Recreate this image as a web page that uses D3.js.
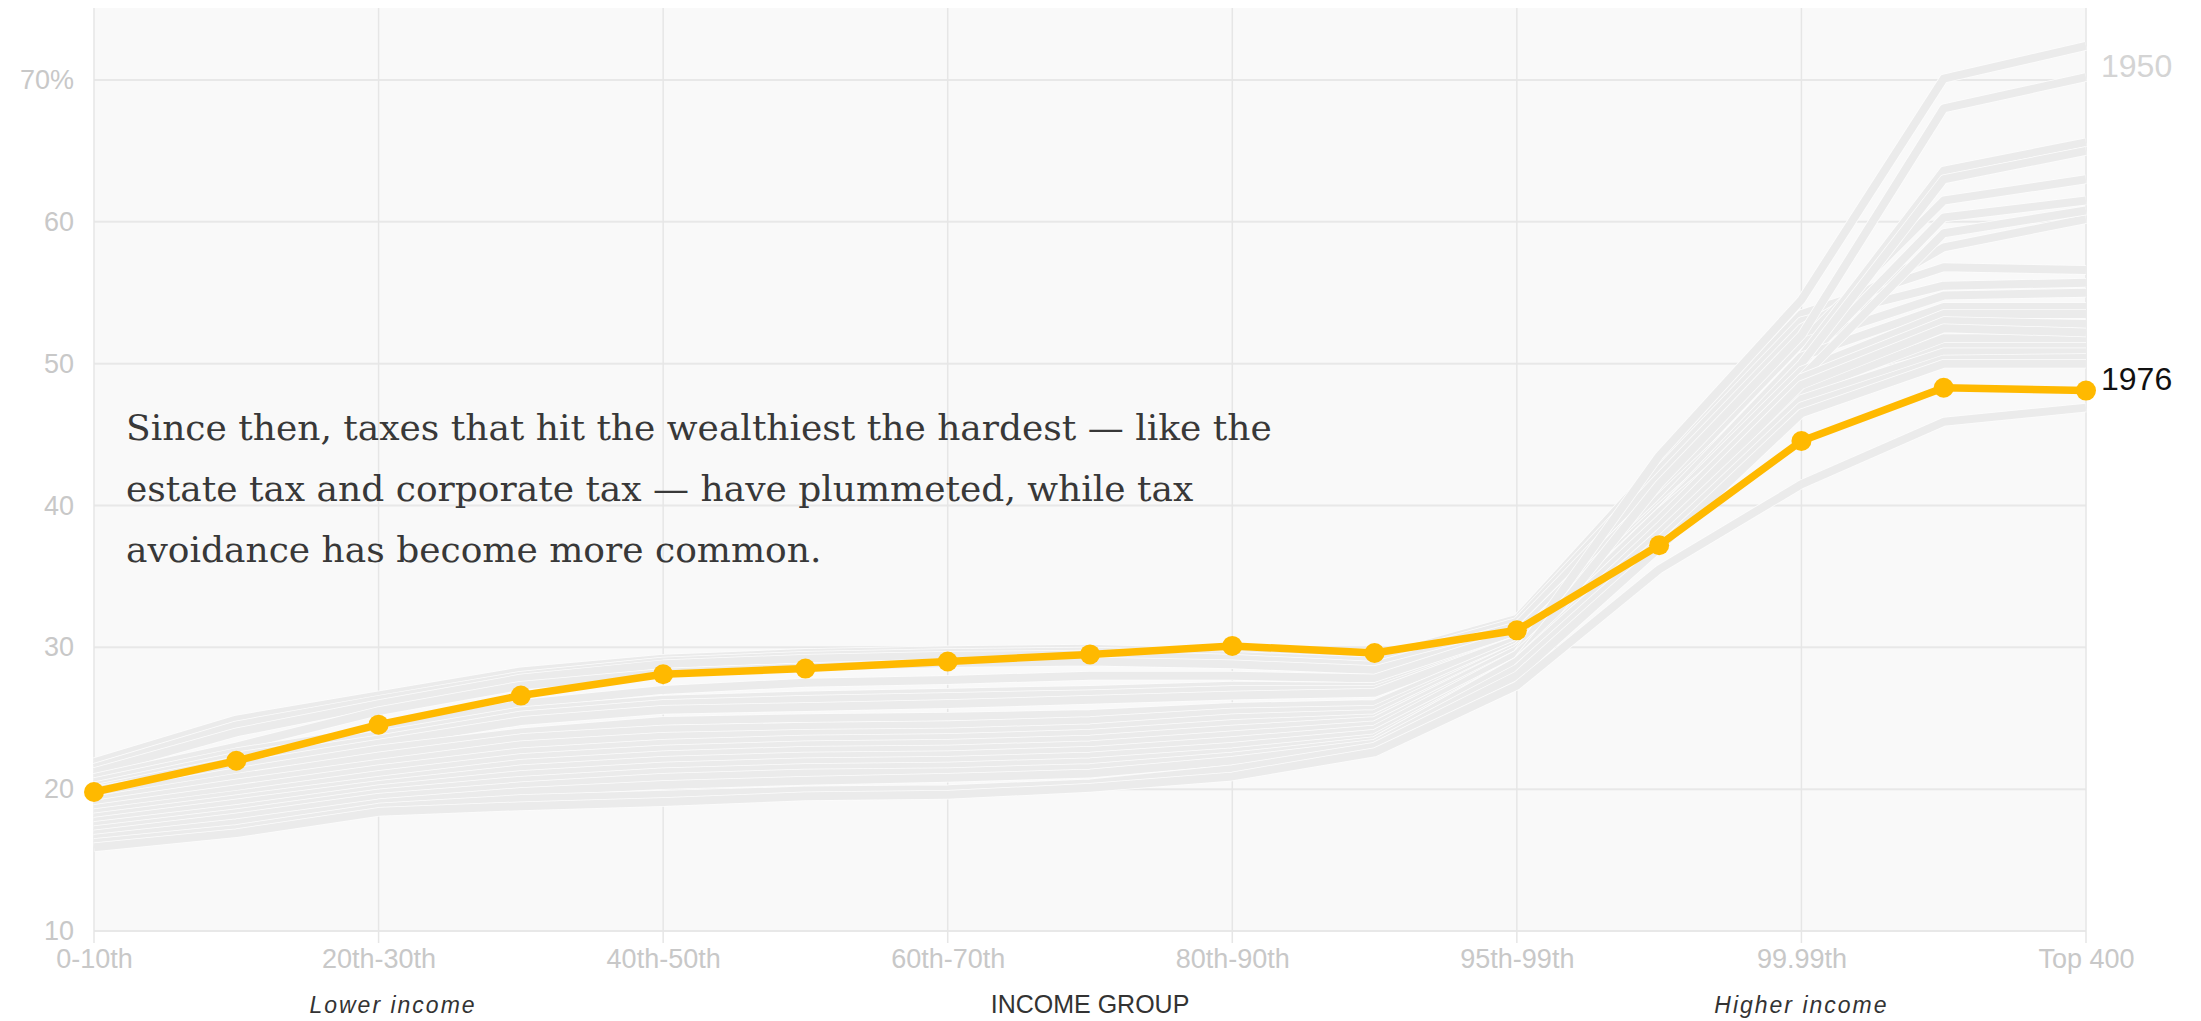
<!DOCTYPE html>
<html><head><meta charset="utf-8">
<script src="https://cdn.jsdelivr.net/npm/d3@7"></script>
<style>
html,body{margin:0;padding:0;background:#fff;}
svg{display:block;}
</style></head>
<body>
<svg id="chart" width="2201" height="1021"></svg>
<script>
// ---------- DATA ----------
const categories = ["0-10th","10th-20th","20th-30th","30th-40th","40th-50th","50th-60th","60th-70th","70th-80th","80th-90th","90th-95th","95th-99th","99th-99.9th","99.99th","Top 0.001%","Top 400"];
const tickLabels = ["0-10th","20th-30th","40th-50th","60th-70th","80th-90th","95th-99th","99.99th","Top 400"];
const yTicks = [10, 20, 30, 40, 50, 60, 70];
const highlightYear = "1976";
const highlightRates = [19.8, 22.0, 24.55, 26.6, 28.1, 28.5, 29.0, 29.5, 30.1, 29.6, 31.2, 37.2, 44.55, 48.3, 48.1];
const earliestYear = "1950";
const grayRates = [
  [21.9, 24.9, 26.6, 28.3, 29.2, 29.6, 29.8, 29.9, 29.6, 29.2, 32.0, 43.0, 53.5, 56.8, 56.6],
  [21.5, 24.5, 26.3, 28.0, 29.0, 29.4, 29.6, 29.7, 29.4, 29.0, 31.8, 42.5, 53.0, 55.5, 55.7],
  [21.2, 24.0, 26.0, 27.8, 28.8, 29.2, 29.4, 29.5, 29.2, 28.7, 31.5, 42.0, 52.5, 58.2, 60.2],
  [20.8, 23.0, 25.5, 27.3, 28.2, 28.6, 28.9, 29.0, 28.8, 28.4, 31.0, 41.0, 51.5, 61.5, 63.0],
  [20.5, 22.6, 24.2, 26.0, 27.0, 27.5, 27.7, 28.0, 28.0, 27.8, 31.0, 41.0, 51.5, 54.8, 55.0],
  [20.2, 22.3, 23.8, 25.5, 26.3, 26.6, 26.8, 27.0, 27.3, 27.2, 30.5, 40.0, 50.5, 63.6, 65.6],
  [20.0, 22.0, 23.5, 25.2, 26.0, 26.3, 26.5, 26.7, 27.0, 27.0, 30.5, 40.5, 50.0, 60.3, 61.5],
  [19.9, 21.6, 23.2, 24.8, 25.6, 25.8, 26.0, 26.3, 26.6, 26.8, 30.5, 40.0, 50.5, 54.0, 54.0],
  [19.5, 21.2, 22.8, 24.0, 24.8, 25.0, 25.1, 25.3, 25.8, 26.0, 30.2, 39.8, 48.8, 51.2, 51.2],
  [19.2, 20.8, 22.3, 23.6, 24.2, 24.4, 24.5, 24.8, 25.4, 25.6, 30.0, 39.5, 50.0, 63.0, 65.0],
  [18.9, 20.4, 21.8, 23.1, 23.7, 23.9, 24.0, 24.3, 25.0, 25.3, 30.0, 39.5, 49.5, 53.5, 53.5],
  [18.6, 20.0, 21.4, 22.6, 23.2, 23.5, 23.6, 23.9, 24.6, 25.0, 29.8, 39.0, 49.0, 59.2, 60.8],
  [18.3, 19.6, 21.0, 22.2, 22.8, 23.1, 23.2, 23.5, 24.2, 24.8, 29.8, 39.5, 48.0, 51.8, 51.8],
  [18.0, 19.3, 20.6, 21.8, 22.4, 22.7, 22.8, 23.1, 23.8, 24.5, 29.5, 43.5, 54.5, 70.1, 72.4],
  [17.7, 19.0, 20.3, 21.4, 22.0, 22.3, 22.4, 22.7, 23.4, 24.2, 29.5, 39.0, 49.0, 53.0, 52.8],
  [17.4, 18.6, 20.0, 21.0, 21.6, 21.9, 22.0, 22.3, 23.0, 23.9, 29.0, 41.5, 52.0, 68.0, 70.2],
  [17.1, 18.3, 19.7, 20.6, 21.2, 21.5, 21.6, 21.9, 22.6, 23.6, 29.0, 38.5, 48.5, 52.5, 52.2],
  [16.8, 18.0, 19.4, 20.2, 20.8, 21.1, 21.2, 21.5, 22.3, 23.4, 29.0, 38.0, 47.5, 50.8, 50.8],
  [16.5, 17.6, 19.0, 19.8, 20.3, 20.6, 20.8, 21.1, 22.0, 23.2, 28.5, 37.5, 47.0, 50.3, 50.4],
  [16.2, 17.2, 18.7, 19.3, 19.6, 19.9, 20.0, 20.4, 21.4, 23.0, 28.0, 37.0, 46.5, 50.0, 50.0],
  [15.9, 16.9, 18.4, 18.8, 19.1, 19.5, 19.6, 20.1, 20.9, 22.6, 27.3, 35.5, 41.5, 45.9, 46.9]
];
const annotationLines = [
  "Since then, taxes that hit the wealthiest the hardest \u2014 like the",
  "estate tax and corporate tax \u2014 have plummeted, while tax",
  "avoidance has become more common."
];
const axisTitle = "INCOME GROUP";
const lowerLabel = "Lower income";
const higherLabel = "Higher income";

// ---------- CHART ----------
(function () {
const svg = d3.select("#chart");
const pLeft = 94, pRight = 2086, pTop = 8, pBottom = 931;
const x = d3.scalePoint().domain(categories).range([pLeft, pRight]);
const y = d3.scaleLinear().domain([10, 70]).range([pBottom, 80]);

const sansFont = "'Liberation Sans', Arial, sans-serif";

// panel
svg.append("rect").attr("x", pLeft).attr("y", pTop)
  .attr("width", pRight - pLeft).attr("height", pBottom - pTop)
  .attr("fill", "#f9f9f9");

// horizontal grid
svg.append("g").selectAll("line").data(yTicks).join("line")
  .attr("x1", pLeft).attr("x2", pRight)
  .attr("y1", d => y(d)).attr("y2", d => y(d))
  .attr("stroke", "#e8e8e8").attr("stroke-width", 2);

// vertical grid
svg.append("g").selectAll("line").data(tickLabels).join("line")
  .attr("x1", d => x(d)).attr("x2", d => x(d))
  .attr("y1", pTop).attr("y2", pBottom + 12)
  .attr("stroke", "#e6e6e6").attr("stroke-width", 1.5);

// y axis
const yAxis = d3.axisLeft(y).tickValues(yTicks).tickSize(0).tickPadding(20)
  .tickFormat(d => d === 70 ? "70%" : d);
const ya = svg.append("g").attr("transform", `translate(${pLeft},0)`).call(yAxis);
ya.select(".domain").remove();
ya.selectAll("text").attr("font-family", sansFont).attr("font-size", 27)
  .attr("fill", "#c8c8c8");

// x axis
const xAxis = d3.axisBottom(x).tickValues(tickLabels).tickSize(0).tickPadding(18);
const xa = svg.append("g").attr("transform", `translate(0,${pBottom})`).call(xAxis);
xa.select(".domain").remove();
xa.selectAll("text").attr("font-family", sansFont).attr("font-size", 27)
  .attr("fill", "#c8c8c8");

// gray lines
const line = d3.line().x((d, i) => x(categories[i])).y(d => y(d));
const gl = svg.append("g");
grayRates.forEach(r => {
  gl.append("path").attr("d", line(r)).attr("fill", "none")
    .attr("stroke", "#fcfcfc").attr("stroke-width", 9.5).attr("stroke-linejoin", "round");
  gl.append("path").attr("d", line(r)).attr("fill", "none")
    .attr("stroke", "#ebebeb").attr("stroke-width", 8).attr("stroke-linejoin", "round");
});

// highlight
svg.append("path").attr("d", line(highlightRates)).attr("fill", "none")
  .attr("stroke", "#ffb900").attr("stroke-width", 7.5).attr("stroke-linejoin", "round");
svg.append("g").selectAll("circle").data(highlightRates).join("circle")
  .attr("cx", (d, i) => x(categories[i])).attr("cy", d => y(d)).attr("r", 10)
  .attr("fill", "#ffb900");

// end labels
const last = categories[categories.length - 1];
const topLine = grayRates.reduce((a, b) => (b[b.length - 1] > a[a.length - 1] ? b : a));
svg.append("text").attr("x", x(last) + 15).attr("y", y(topLine[topLine.length - 1]) + 31)
  .attr("font-family", sansFont).attr("font-size", 32).attr("fill", "#d4d4d4").text(earliestYear);
svg.append("text").attr("x", x(last) + 15).attr("y", y(highlightRates[highlightRates.length - 1]) - 1)
  .attr("font-family", sansFont).attr("font-size", 32).attr("fill", "#111").text(highlightYear);

// annotation
const ann = svg.append("g");
annotationLines.forEach((t, i) => {
  ann.append("text").attr("x", 126).attr("y", 440 + i * 61)
    .attr("font-family", "'DejaVu Serif', Georgia, serif").attr("font-size", 36)
    .attr("fill", "#383838").text(t);
});

// bottom labels
const bl = svg.append("g").attr("font-family", sansFont).attr("fill", "#333");
bl.append("text").attr("x", 393).attr("y", 1013).attr("text-anchor", "middle")
  .attr("font-size", 23).attr("font-style", "italic").attr("letter-spacing", 2).text(lowerLabel);
bl.append("text").attr("x", (x(categories[6]) + x(categories[8])) / 2).attr("y", 1013).attr("text-anchor", "middle")
  .attr("font-size", 25).text(axisTitle);
bl.append("text").attr("x", x(categories[12])).attr("y", 1013).attr("text-anchor", "middle")
  .attr("font-size", 23).attr("font-style", "italic").attr("letter-spacing", 2).text(higherLabel);
})();
</script>
</body></html>
